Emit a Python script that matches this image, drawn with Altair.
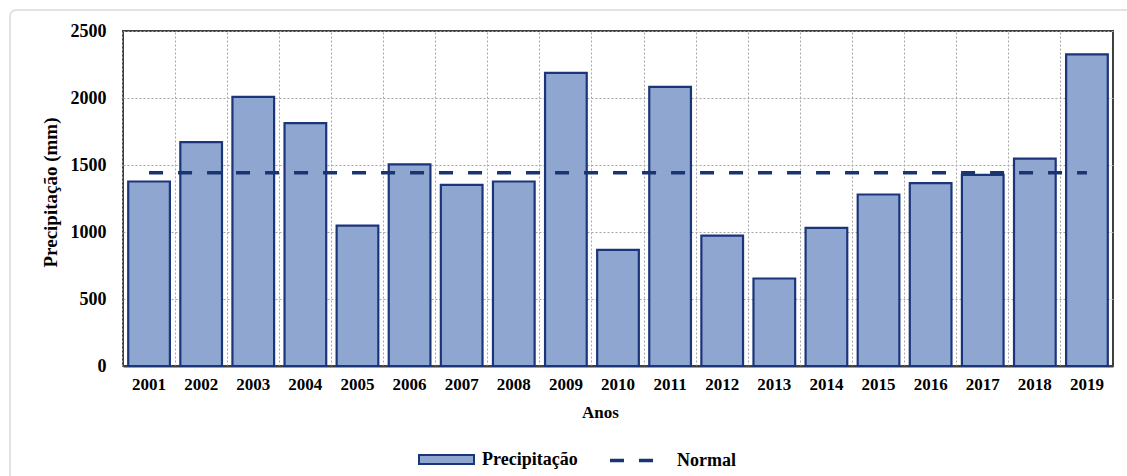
import altair as alt
import pandas as pd

anos = ["2001", "2002", "2003", "2004", "2005", "2006", "2007", "2008", "2009", "2010",
        "2011", "2012", "2013", "2014", "2015", "2016", "2017", "2018", "2019"]
precipitacao = [1377, 1671, 2008, 1813, 1048, 1504, 1352, 1377, 2188, 866,
                2083, 973, 653, 1031, 1280, 1365, 1427, 1547, 2325]
normal = 1442
y_ticks = [0, 500, 1000, 1500, 2000, 2500]

df = pd.DataFrame({
    "ano": anos,
    "precip": precipitacao,
    "normal": [normal] * len(anos),
    "serie": ["Precipitação"] * len(anos),
    "serie2": ["Normal"] * len(anos),
})

FONT = "Liberation Serif"
BAR_FILL = "#8FA6D0"
BAR_STROKE = "#1B357A"
LINE_COLOR = "#1A3470"
GRID = "#A6A6A6"

x_scale = alt.Scale(domain=anos, paddingInner=0.2, paddingOuter=0.1)
y_scale = alt.Scale(domain=[0, 2500], nice=False)

y_axis = alt.Axis(
    values=y_ticks, format="d", grid=True, gridColor=GRID, gridDash=[2, 2], gridWidth=1,
    ticks=False, domain=False, labelFont=FONT, labelFontWeight="bold",
    labelFontSize=18, labelColor="black", labelPadding=17,
    title="Precipitação (mm)", titleFont=FONT, titleFontWeight="bold",
    titleFontSize=19, titleColor="black", titleAngle=270, titleX=-73,
    titleY=161, titleAlign="center", titleBaseline="middle",
)

bars = alt.Chart(df).mark_bar(stroke=BAR_STROKE, strokeWidth=2.2).encode(
    x=alt.X("ano:N", sort=anos, scale=x_scale, axis=alt.Axis(
        orient="bottom", title="Anos", grid=False, ticks=False, labelAngle=0,
        labelFont=FONT, labelFontWeight="bold", labelFontSize=17,
        labelColor="black", labelPadding=10, domainColor="#404040",
        domainWidth=2, titleFont=FONT, titleFontWeight="bold",
        titleFontSize=17, titleColor="black", titleX=477, titleY=51,
        titleAlign="center", titleBaseline="alphabetic")),
    y=alt.Y("precip:Q", scale=y_scale, axis=y_axis),
    fill=alt.Fill("serie:N", scale=alt.Scale(domain=["Precipitação"], range=[BAR_FILL]),
                  legend=alt.Legend(
                      orient="none", legendX=295, legendY=400, title=None,
                      padding=0, symbolType="M-1,-0.16H1V0.16H-1Z",
                      symbolSize=3025, symbolStrokeColor=BAR_STROKE,
                      symbolStrokeWidth=2, symbolFillColor=BAR_FILL,
                      labelFont=FONT, labelFontWeight="bold", labelFontSize=18,
                      labelColor="black", labelOffset=7)),
)

line = alt.Chart(df).mark_line(color=LINE_COLOR, strokeWidth=3.5).encode(
    x=alt.X("ano:N", sort=anos, scale=x_scale, axis=alt.Axis(
        orient="top", title=None, grid=True, gridColor=GRID, gridDash=[2, 2],
        gridWidth=1, bandPosition=-0.125, labels=False, ticks=False,
        domain=False)),
    y=alt.Y("normal:Q", scale=y_scale, axis=y_axis),
    strokeDash=alt.StrokeDash("serie2:N", scale=alt.Scale(domain=["Normal"], range=[[14, 15]]),
                              legend=alt.Legend(
                                  orient="none", legendX=485, legendY=406,
                                  title=None, padding=0, symbolType="stroke",
                                  symbolSize=1849, symbolStrokeColor=LINE_COLOR,
                                  symbolStrokeWidth=3.5, labelFont=FONT,
                                  labelFontWeight="bold", labelFontSize=18,
                                  labelColor="black", labelOffset=22)),
)

frame = alt.Chart(pd.DataFrame({"k": [0]})).mark_rect(
    fill=None, stroke="#D9D9D9", strokeWidth=1.5, cornerRadius=6
).encode(x=alt.value(-113), x2=alt.value(1100), y=alt.value(-21), y2=alt.value(500))

chart = alt.layer(frame, bars, line).resolve_axis(x="independent").resolve_scale(
    fill="independent", strokeDash="independent"
).properties(
    width=990, height=335,
    padding={"left": 123, "top": 31, "right": 14, "bottom": 110},
    autosize=alt.AutoSizeParams(type="none"),
    background="white",
).configure_view(stroke="#404040", strokeWidth=2)

chart.save("out.html", embed_options={"renderer": "svg", "actions": False})
